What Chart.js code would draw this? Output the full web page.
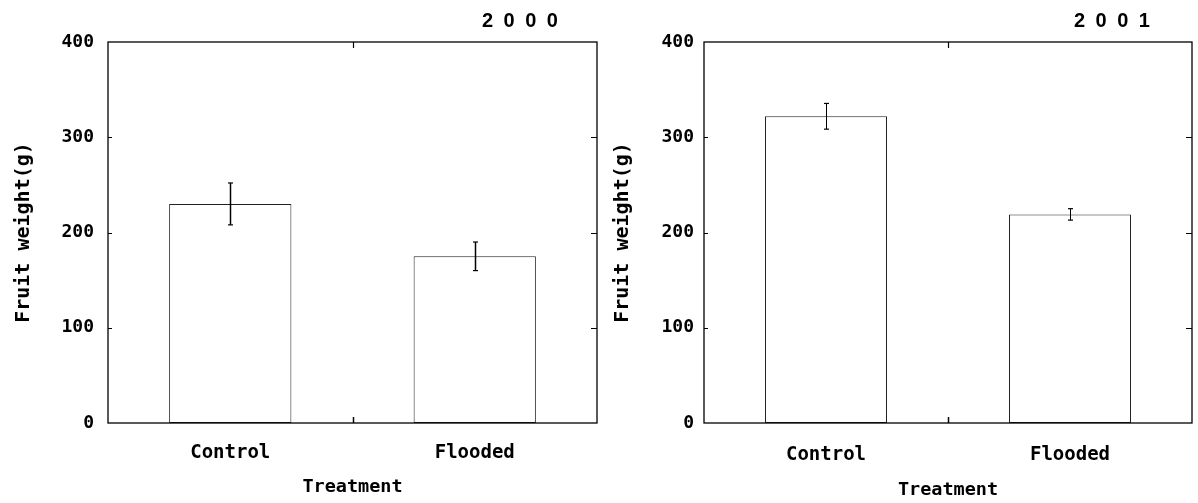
<!DOCTYPE html>
<html>
<head>
<meta charset="utf-8">
<script src="https://cdn.jsdelivr.net/npm/chart.js@4.4.1/dist/chart.umd.min.js"></script>
<style>
  html, body { margin: 0; padding: 0; background: #fff; }
  body { width: 1198px; height: 503px; position: relative; overflow: hidden; }
  .panel { position: absolute; top: 0; height: 503px; }
  #p1 { left: 0; width: 600px; }
  #p2 { left: 600px; width: 598px; }
</style>
</head>
<body>
<div class="panel" id="p1"><canvas id="c1"></canvas></div>
<div class="panel" id="p2"><canvas id="c2"></canvas></div>
<script>
// ---- data ----
const categories = ['Control', 'Flooded'];
const years = ['2000', '2001'];
const means2000 = [230, 175];
const errors2000 = [22, 15];
const means2001 = [322, 219];
const errors2001 = [13.5, 6];
const yTicks = [0, 100, 200, 300, 400];
const yTitle = 'Fruit weight(g)';
const xTitle = 'Treatment';

const MONO = '"DejaVu Sans Mono", "Liberation Mono", monospace';

const overlay = {
  id: 'overlay',
  afterDatasetsDraw(chart, args, opts) {
    const { ctx, chartArea: a, scales: { x, y } } = chart;
    ctx.save();
    ctx.strokeStyle = '#000';
    const line = (x1, y1, x2, y2, w) => {
      ctx.lineWidth = w;
      ctx.beginPath(); ctx.moveTo(x1, y1); ctx.lineTo(x2, y2); ctx.stroke();
    };
    // plot frame
    ctx.lineWidth = 1.3;
    ctx.strokeRect(a.left, a.top, a.right - a.left, a.bottom - a.top);
    // inward y ticks
    y.ticks.forEach(t => {
      if (t.value === 0 || t.value === 400) return;
      const py = Math.round(y.getPixelForValue(t.value)) + 0.5;
      line(a.left, py, a.left + 4, py, 1);
      line(a.right - 6, py, a.right, py, 1);
    });
    // inward x tick between categories
    const mx = Math.round((x.getPixelForValue(0) + x.getPixelForValue(1)) / 2) + 0.5;
    line(mx, a.top, mx, a.top + 6, 1.2);
    line(mx, a.bottom, mx, a.bottom - 6, 1.5);
    // error bars
    const meta = chart.getDatasetMeta(0);
    meta.data.forEach((bar, i) => {
      const v = opts.means[i], e = opts.errors[i];
      const bx = Math.round(bar.x) + 0.5;
      const yt = y.getPixelForValue(v + e), yb = y.getPixelForValue(v - e);
      line(bx, yt, bx, yb, opts.ebWidth);
      line(bx - 2.5, yt, bx + 2.5, yt, 1.2);
      line(bx - 2.5, yb, bx + 2.5, yb, 1.2);
    });
    // year label
    ctx.fillStyle = '#000';
    ctx.font = 'bold 20px "Liberation Sans", Arial, sans-serif';
    ctx.letterSpacing = '10.5px';
    ctx.textAlign = 'left';
    ctx.textBaseline = 'alphabetic';
    ctx.fillText(opts.year, a.right - opts.yearOffset, 27);
    ctx.restore();
  }
};

function makeChart(id, means, errors, year, cfg) {
  return new Chart(document.getElementById(id), {
    type: 'bar',
    data: {
      labels: categories,
      datasets: [{
        data: means,
        backgroundColor: '#ffffff',
        borderColor: '#222',
        borderWidth: 1,
        borderSkipped: false,
        barPercentage: 0.5,
        categoryPercentage: 1.0
      }]
    },
    options: {
      responsive: true,
      maintainAspectRatio: false,
      animation: false,
      layout: { padding: { top: 42, right: cfg.padRight, left: 0, bottom: 0 } },
      plugins: {
        legend: { display: false },
        tooltip: { enabled: false },
        overlay: { means, errors, year, yearOffset: cfg.yearOffset, ebWidth: cfg.ebWidth }
      },
      scales: {
        x: {
          grid: { display: false, drawTicks: false, tickLength: 0 },
          border: { display: false },
          ticks: { color: '#000', font: { family: MONO, size: 19, weight: 'bold' }, padding: cfg.xTickPad },
          title: { display: true, text: xTitle, color: '#000', font: { family: MONO, size: 18.5, weight: 'bold' }, padding: { top: 0, bottom: cfg.xTitlePad } },
          afterFit: s => { s.height = 80; }
        },
        y: {
          min: 0, max: 400,
          afterBuildTicks: s => { s.ticks = yTicks.map(v => ({ value: v })); },
          grid: { display: false, drawTicks: false, tickLength: 0 },
          border: { display: false },
          ticks: { color: '#000', font: { family: MONO, size: 18, weight: 'bold' }, padding: cfg.yTickPad },
          title: { display: true, text: yTitle, color: '#000', font: { family: MONO, size: 20, weight: 'bold' }, padding: { top: cfg.yTitlePad, bottom: 0 } },
          afterFit: s => { s.width = cfg.axisLeft; }
        }
      }
    },
    plugins: [overlay]
  });
}

makeChart('c1', means2000, errors2000, years[0], { padRight: 3, axisLeft: 108, yTickPad: 14, xTickPad: 19, xTitlePad: 5, yTitlePad: 12, yearOffset: 115, ebWidth: 1.5 });
makeChart('c2', means2001, errors2001, years[1], { padRight: 6, axisLeft: 104, yTickPad: 10, xTickPad: 21, xTitlePad: 2, yTitlePad: 11, yearOffset: 118, ebWidth: 1 });
</script>
</body>
</html>
